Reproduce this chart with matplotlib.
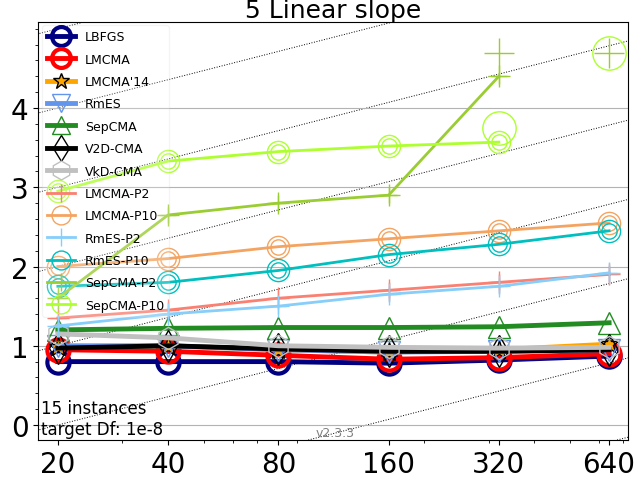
import numpy as np
import matplotlib
matplotlib.use('Agg')
import matplotlib.pyplot as plt

dims = [20, 40, 80, 160, 320, 640]

names = ['LBFGS', 'LMCMA', "LMCMA'14", 'RmES', 'SepCMA', 'V2D-CMA', 'VkD-CMA',
         'LMCMA-P2', 'LMCMA-P10', 'RmES-P2', 'RmES-P10', 'SepCMA-P2', 'SepCMA-P10']
colors = ['navy', 'red', 'orange', 'cornflowerblue', 'forestgreen', 'black', 'silver',
          'salmon', 'sandybrown', 'lightskyblue', 'c', 'yellowgreen', 'greenyellow']
markers = ['o', 'o', '*', 'v', '^', 'd', 'h', '+', 'o', '+', 'o', '+', 'o']

lbfgs = [0.80, 0.80, 0.80, 0.78, 0.82, 0.87]
lmcma = [0.95, 0.93, 0.88, 0.83, 0.85, 0.90]
lmcma14 = [0.98, 1.00, 0.95, 0.92, 0.95, 1.02]
rmes = [1.00, 1.00, 0.95, 0.92, 0.93, 0.95]
sepcma = [1.20, 1.22, 1.23, 1.23, 1.24, 1.29]
v2d = [0.97, 1.00, 0.96, 0.93, 0.93, 0.95]
vkd = [1.15, 1.10, 1.00, 0.98, 0.97, 0.98]
lmcma_p2 = [1.35, 1.45, 1.60, 1.70, 1.80, 1.90]
lmcma_p10 = [2.00, 2.10, 2.25, 2.35, 2.45, 2.55]
rmes_p2 = [1.25, 1.40, 1.50, 1.65, 1.75, 1.92]
rmes_p10 = [1.75, 1.80, 1.95, 2.15, 2.28, 2.45]
sepcma_p2 = [1.60, 2.65, 2.80, 2.90, 4.40, np.nan]
sepcma_p10 = [2.95, 3.33, 3.45, 3.52, 3.57, np.nan]
series = [lbfgs, lmcma, lmcma14, rmes, sepcma, v2d, vkd,
          lmcma_p2, lmcma_p10, rmes_p2, rmes_p10, sepcma_p2, sepcma_p10]

# extra (upper) markers, e.g. unfinished runs
extra_p2 = ([320, 640], [4.70, 4.70])
extra_p10 = ([320, 640], [3.75, 4.70])

fig = plt.figure(figsize=(6.4, 4.81), dpi=100)
ax = fig.add_axes([0.06, 0.083, 0.921, 0.87])
ax.set_xscale('log')

xs = np.array([17, 800])
for off in range(-3, 6):
    ax.plot(xs, off + 0.357 * np.log2(xs / 20.), ':', color='k', lw=0.7, zorder=0)

for i in range(len(names)):
    lw = 3.5 if i < 7 else 2
    star = markers[i] == '*'
    ax.plot(dims, series[i], '-', color=colors[i], marker=markers[i], ms=16 if not star else 14,
            mfc='none' if not star else colors[i], mec=colors[i] if not star else 'k',
            mew=3 if i < 2 else 1, lw=lw, label=names[i])
    if i >= 7:
        ax.plot(dims, series[i], ls='none', marker=markers[i], ms=11, mfc='none',
                mec=colors[i], mew=1)
ax.plot(extra_p2[0], extra_p2[1], ls='none', marker='+', ms=22, mec='yellowgreen', mew=1)
ax.plot(extra_p10[0], extra_p10[1], ls='none', marker='o', ms=24, mfc='none', mec='greenyellow', mew=1)

ax.set_xlim(17.7, 720)
ax.set_ylim(-0.19, 5.09)
ax.set_xticks(dims)
ax.set_xticklabels([str(d) for d in dims])
ax.minorticks_on()
ax.tick_params(labelsize=20)
ax.set_yticks([0, 1, 2, 3, 4])
ax.grid(True, axis='y', which='major', color='0.7')
ax.set_title('5 Linear slope', fontsize=18, pad=2)
ax.legend(loc='upper left', fontsize=9, framealpha=0.2, labelspacing=0.75, handlelength=2.2,
          markerscale=0.85, borderaxespad=0.3)
ax.text(0.005, 0.005, '15 instances\ntarget Df: 1e-8', transform=ax.transAxes, fontsize=12,
        ha='left', va='bottom')
ax.text(0.47, 0.01, 'v2.3.3', transform=ax.transAxes, fontsize=9, color='0.5')
fig.savefig('out.png', dpi=100)
